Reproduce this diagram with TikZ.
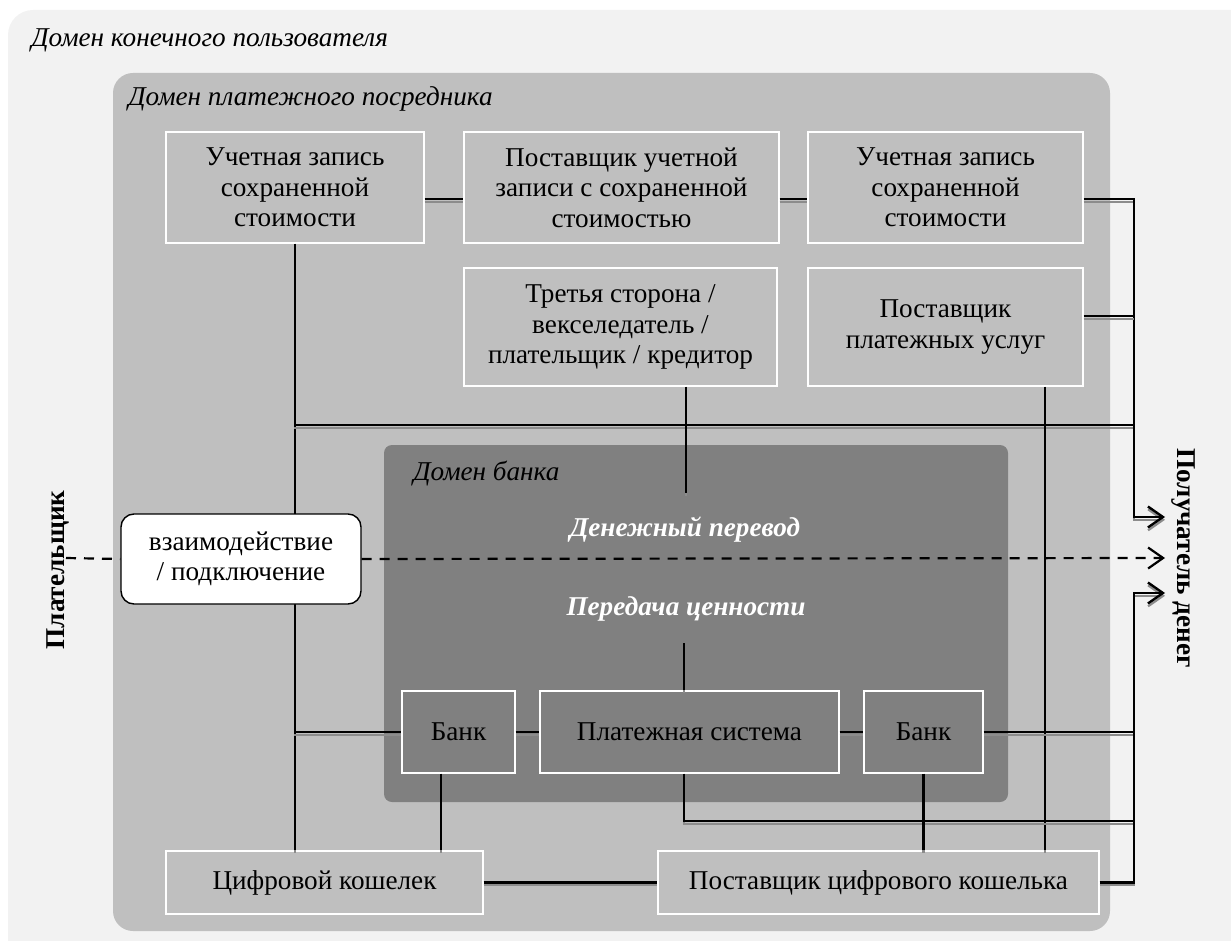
\documentclass[tikz,border=0pt]{standalone}
\usepackage{fontspec}
\setmainfont{Liberation Serif}
\usetikzlibrary{arrows.meta}
\definecolor{enduser}{HTML}{F2F2F2}
\definecolor{agent}{HTML}{BFBFBF}
\definecolor{bankdom}{HTML}{808080}

\begin{document}
\begin{tikzpicture}[x=0.5pt,y=-0.5pt]
  \tikzstyle{every node}=[font=\fontsize{13.6}{15.3}\selectfont, text=black, align=center, inner sep=0pt]
  \tikzstyle{entity}=[rectangle, draw=white, line width=0.6pt]
  \tikzstyle{zonelabel}=[anchor=west, font=\fontsize{13.6}{15.3}\selectfont\itshape]
  \tikzstyle{party}=[font=\fontsize{13.6}{15.3}\selectfont\bfseries]
  \tikzstyle{link}=[black, line width=1.2pt, preaction={draw=black!45, line width=1.1pt, transform canvas={yshift=-1.4pt}}]
  \tikzstyle{flow}=[black, line width=1.1pt, dash pattern=on 5pt off 4pt]
  \tikzstyle{arrowed}=[-{Straight Barb[length=7.5pt,width=10.5pt]}]

  \useasboundingbox (0,0) rectangle (1231,941);
  \clip (0,0) rectangle (1231,941);
  \fill[enduser, rounded corners=12.5pt] (8,10) rectangle (1260,990);
  \fill[agent, rounded corners=10pt] (113,73) rectangle (1110,931);
  \fill[bankdom, rounded corners=4pt] (384,445) rectangle (1008,802);

  \node[zonelabel] (eu) at (31,40) {Домен конечного пользователя};
  \node[zonelabel] (pa) at (128,99) {Домен платежного посредника};
  \node[zonelabel] (bd) at (413,474) {Домен банка};

  \node[entity, minimum width=129pt, minimum height=55.5pt] (a1) at (295,187.5) {Учетная запись\\сохраненной\\стоимости};
  \node[entity, minimum width=157.5pt, minimum height=55.5pt] (pv) at (621.5,187.5) {Поставщик учетной\\записи с сохраненной\\стоимостью};
  \node[entity, minimum width=137.5pt, minimum height=55.5pt] (a2) at (945.5,187.5) {Учетная запись\\сохраненной\\стоимости};
  \node[entity, minimum width=156.5pt, minimum height=59pt] (tp) at (620.5,327) {Третья сторона /\\векселедатель /\\плательщик / кредитор};
  \node[entity, minimum width=137.5pt, minimum height=59pt] (psp) at (945.5,327) {Поставщик\\платежных услуг};
  \node[entity, minimum width=56.5pt, minimum height=41pt] (b1) at (458.5,732) {Банк};
  \node[entity, minimum width=149.5pt, minimum height=41pt] (ps) at (689.5,732) {Платежная система};
  \node[entity, minimum width=59.5pt, minimum height=41pt] (b2) at (923.5,732) {Банк};
  \node[entity, minimum width=158.5pt, minimum height=31.5pt] (dw) at (324.5,882.5) {Цифровой кошелек};
  \node[entity, minimum width=220.5pt, minimum height=31.5pt] (dwp) at (878.5,882.5) {Поставщик цифрового кошелька};

  \coordinate (up) at (1134,517);
  \coordinate (lo) at (1134,593);
  \coordinate (rcv1) at (1165,517);
  \coordinate (rcv2) at (1165,558);
  \coordinate (rcv3) at (1165,593);
  \coordinate (pay) at (66,558);
  \coordinate (hl) at (294,425);
  \coordinate (hr) at (1134,425);
  \coordinate (pspr) at (1134,316);
  \coordinate (tpe) at (686,493);
  \coordinate (pspv) at (1045,0);
  \coordinate (pse) at (684,643);
  \coordinate (psd) at (684,821);
  \coordinate (bl) at (294,732);
  \coordinate (br) at (1134,732);
  \coordinate (b1v) at (441,0);

  \draw[link] (a1.south) -- (a1.south |- dw.north);
  \draw[link] (hl) -- (hr);
  \draw[link] ([yshift=-5.75pt]a1.east) -- ([yshift=-5.75pt]pv.west);
  \draw[link] ([yshift=-5.75pt]pv.east) -- ([yshift=-5.75pt]a2.west);
  \draw[link, arrowed] ([yshift=-5.75pt]a2.east) -| (up) -- (rcv1);
  \draw[link] ([yshift=5.5pt]psp.east) -- (pspr);
  \draw[link] (tpe |- tp.south) -- (tpe);
  \draw[link] (pspv |- psp.south) -- (pspv |- dwp.north);
  \draw[link] (bl) -- (b1.west);
  \draw[link] (b1.east) -- (ps.west);
  \draw[link] (ps.east) -- (b2.west);
  \draw[link] (b2.east) -- (br);
  \draw[link] (pse) -- (pse |- ps.north);
  \draw[link] (pse |- ps.south) -- (psd) -- (psd -| up);
  \draw[link] (b1v |- b1.south) -- (b1v |- dw.north);
  \draw[link] (b2.south) -- (b2.south |- dwp.north);
  \draw[link] (dw.east) -- (dwp.west);
  \draw[link, arrowed] (dwp.east) -| (lo) -- (rcv3);

  \node[draw=black, fill=white, line width=0.7pt, rounded corners=6.5pt, minimum width=120pt, minimum height=45pt] (iw) at (241,559) {взаимодействие\\/ подключение};
  \draw[flow] (pay) -- (iw.west);
  \draw[flow, arrowed] (iw.east) -- (rcv2);

  \node[text=white, font=\fontsize{13.6}{15.3}\selectfont\bfseries\itshape] (mt) at (685,530) {Денежный перевод};
  \node[text=white, font=\fontsize{13.6}{15.3}\selectfont\bfseries\itshape] (vt) at (686,609) {Передача ценности};

  \node[party, rotate=90] (payer) at (58,570) {Плательщик};
  \node[party, rotate=-90] (payee) at (1183,558) {Получатель денег};
\end{tikzpicture}
\end{document}
